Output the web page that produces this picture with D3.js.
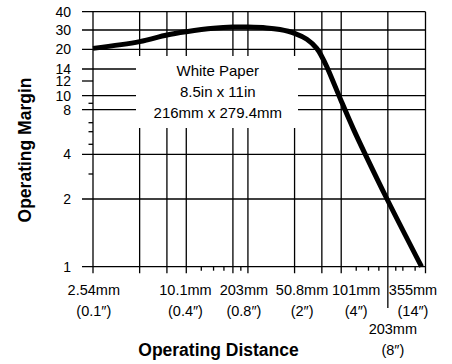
<!DOCTYPE html>
<html><head><meta charset="utf-8">
<script src="https://cdn.jsdelivr.net/npm/d3@7/dist/d3.min.js"></script>
<style>
body{margin:0;background:#fff}
svg{display:block}
text{font-family:"Liberation Sans",Arial,Helvetica,sans-serif;fill:#000}
</style>
</head><body>
<svg id="chart" width="452" height="364"></svg>
<script>
// ---------------- data ----------------
const distanceIn = [0.1, 0.2, 0.3, 0.4, 0.6, 0.8, 1.0, 1.32, 1.61, 2.0, 2.4, 2.78, 3.0, 3.23, 4.0, 4.79, 5.7, 7.9, 13.2];
const marginVals = [20.4, 23.5, 27.0, 28.9, 30.8, 31.4, 31.4, 31.0, 30.2, 28.0, 24.7, 20.4, 17.5, 14.6, 9.3, 6.3, 4.04, 2.0, 1.0];

const yTickValues  = [1, 2, 4, 8, 10, 12, 14, 20, 30, 40];
const yGridFull    = [2, 4, 20, 30];
const yGridSplit   = [8, 10, 14];
const yMinorValues = [3, 5, 6, 7, 9];

const xLabelValues = [0.1, 0.4, 0.8, 2, 4, 14];
const xLabelMm     = ["2.54mm", "10.1mm", "203mm", "50.8mm", "101mm", "355mm"];
const xLabelIn     = ["(0.1″)", "(0.4″)", "(0.8″)", "(2″)", "(4″)", "(14″)"];
const xDropValues  = [8];
const xDropMm      = ["203mm"];
const xDropIn      = ["(8″)"];
const xGridFull    = [3, 4, 8];
const xGridSplit   = [0.2, 0.3, 0.4, 0.8, 1, 2];
const xMinorValues = [0.5, 0.6, 0.7, 0.9, 5, 6, 7, 9, 10, 12];

const noteLines = ["White Paper", "8.5in x 11in", "216mm x 279.4mm"];

// ---------------- layout ----------------
const plot = {left: 93, right: 425.5, top: 11.7, bottom: 266.7};
// printed (hand-drawn) margin axis: calibration stops
const yStops   = [1, 2, 3, 4, 5, 6, 7, 8, 9, 10, 12, 14, 20, 30, 40];
const yStopPos = [266.7, 199, 174, 154.3, 144.3, 131.7, 122.7, 109.7, 103.3, 95.7, 81, 69, 49.3, 30, 11.7];
const labelDx  = [0.8, -0.8, 11, 7.5, 15, -12.5];
const dropDx   = [5];
const noteBox  = {x0: 136, x1: 298, y0: 56, y1: 128};

const x = d3.scaleLog().domain([0.1, 14]).range([plot.left, plot.right]);
const y = d3.scaleLog().domain(yStops).range(yStopPos);

const svg = d3.select("#chart");
svg.append("rect").attr("width", 452).attr("height", 364).attr("fill", "#fff");

const lw = 1.3;
const g = svg.append("g").attr("stroke", "#000").attr("stroke-width", lw).attr("fill", "none");

// horizontal grid
g.selectAll(".hg").data(yGridFull.concat(yGridSplit)).join("line")
  .attr("x1", plot.left - 11).attr("x2", plot.right)
  .attr("y1", d => y(d)).attr("y2", d => y(d));
// vertical grid
g.selectAll(".vg").data(xGridFull.concat(xGridSplit)).join("line")
  .attr("x1", d => x(d)).attr("x2", d => x(d))
  .attr("y1", plot.top).attr("y2", d => xDropValues.includes(d) ? 308 : plot.bottom + 6.5);

// blank note box over the grid
svg.append("rect")
  .attr("x", noteBox.x0).attr("y", noteBox.y0)
  .attr("width", noteBox.x1 - noteBox.x0).attr("height", noteBox.y1 - noteBox.y0)
  .attr("fill", "#fff");

const f = svg.append("g").attr("stroke", "#000").attr("stroke-width", lw).attr("fill", "none");
// frame
f.append("line").attr("x1", plot.left - 11).attr("x2", plot.right).attr("y1", plot.top).attr("y2", plot.top);
f.append("line").attr("x1", plot.left - 11).attr("x2", plot.right).attr("y1", plot.bottom).attr("y2", plot.bottom);
f.append("line").attr("x1", plot.left).attr("x2", plot.left).attr("y1", plot.top).attr("y2", plot.bottom + 6.5);
f.append("line").attr("x1", plot.right).attr("x2", plot.right).attr("y1", plot.top).attr("y2", plot.bottom + 6.5);

// y major tick without grid line
f.selectAll(".yt").data([12]).join("line")
  .attr("x1", plot.left - 11).attr("x2", plot.left)
  .attr("y1", d => y(d)).attr("y2", d => y(d));
// y minor ticks
f.selectAll(".ym").data(yMinorValues).join("line")
  .attr("x1", plot.left - 4.5).attr("x2", plot.left)
  .attr("y1", d => y(d)).attr("y2", d => y(d));
// x minor ticks
f.selectAll(".xm").data(xMinorValues).join("line")
  .attr("x1", d => x(d)).attr("x2", d => x(d))
  .attr("y1", plot.bottom).attr("y2", plot.bottom + 4);

// curve
const pts = distanceIn.map((d, i) => [d, marginVals[i]]);
svg.append("path")
  .datum(pts)
  .attr("fill", "none").attr("stroke", "#000").attr("stroke-width", 5)
  .attr("stroke-linejoin", "round")
  .attr("d", d3.line().x(d => x(d[0])).y(d => y(d[1])).curve(d3.curveCatmullRom.alpha(0.5)));

// y tick labels
svg.append("g").selectAll("text").data(yTickValues).join("text")
  .attr("x", plot.left - 22).attr("y", d => y(d))
  .attr("dy", "0.36em").attr("text-anchor", "end")
  .attr("font-size", 14)
  .text(d => d);

// x tick labels
const xl = svg.append("g").attr("font-size", 14.5).attr("text-anchor", "middle");
xl.selectAll(".l1").data(xLabelValues).join("text")
  .attr("x", (d, i) => x(d) + labelDx[i]).attr("y", 295).text((d, i) => xLabelMm[i]);
xl.selectAll(".l2").data(xLabelValues).join("text")
  .attr("x", (d, i) => x(d) + labelDx[i]).attr("y", 316).text((d, i) => xLabelIn[i]);
xl.selectAll(".d1").data(xDropValues).join("text")
  .attr("x", (d, i) => x(d) + dropDx[i]).attr("y", 333.5).text((d, i) => xDropMm[i]);
xl.selectAll(".d2").data(xDropValues).join("text")
  .attr("x", (d, i) => x(d) + dropDx[i]).attr("y", 354.5).text((d, i) => xDropIn[i]);

// note
svg.append("g").attr("font-size", 15).attr("text-anchor", "middle")
  .selectAll("text").data(noteLines).join("text")
  .attr("x", 217.8).attr("y", (d, i) => 76 + i * 21).text(d => d);

// axis titles
svg.append("text").attr("x", 218.5).attr("y", 356)
  .attr("text-anchor", "middle").attr("font-weight", "bold").attr("font-size", 17.5)
  .text("Operating Distance");
svg.append("text").attr("transform", "translate(31,150) rotate(-90)")
  .attr("text-anchor", "middle").attr("font-weight", "bold").attr("font-size", 17.5)
  .text("Operating Margin");
</script>
</body></html>
